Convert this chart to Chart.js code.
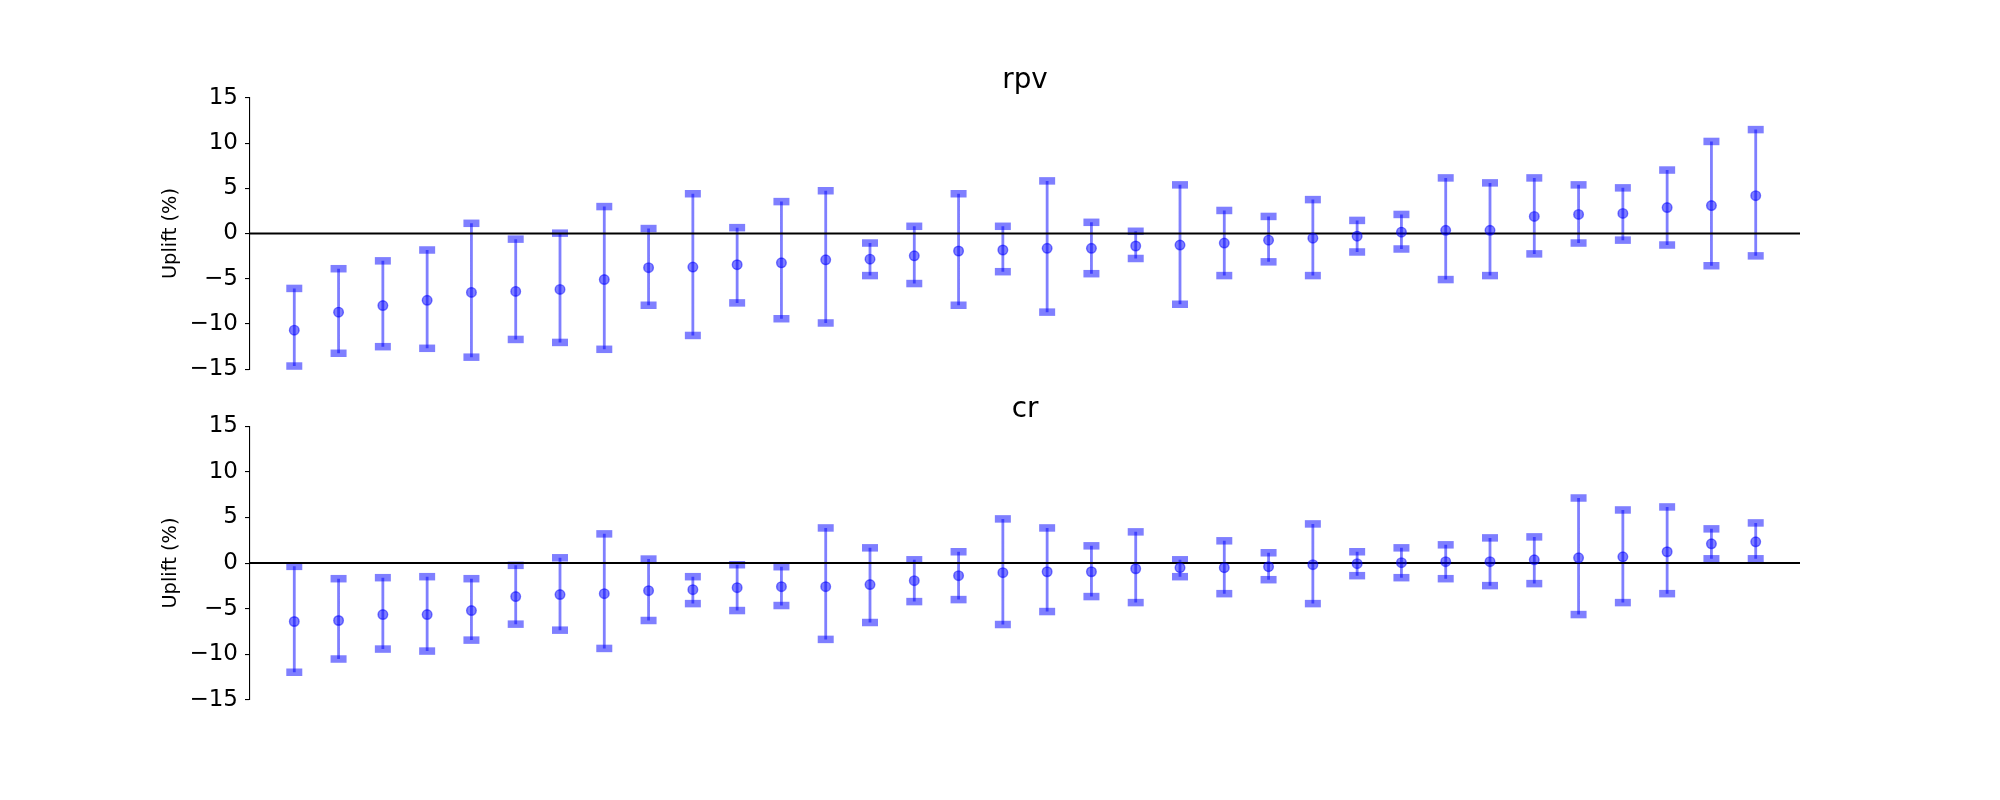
<!DOCTYPE html>
<html><head><meta charset="utf-8">
<script src="https://cdn.jsdelivr.net/npm/chart.js@4.4.0/dist/chart.umd.min.js"></script>
<style>
html,body{margin:0;padding:0;background:#fff;}
#wrap{position:relative;width:2000px;height:800px;background:#fff;}
canvas{position:absolute;left:0;}
</style></head><body>
<div id="wrap">
<canvas id="c1" width="2000" height="390" style="top:0px;width:2000px;height:390px"></canvas>
<canvas id="c2" width="2000" height="410" style="top:390px;width:2000px;height:410px"></canvas>
</div>
<script>
// segment index (x positions, no labels shown)
const segments = [1,2,3,4,5,6,7,8,9,10,11,12,13,14,15,16,17,18,19,20,21,22,23,24,25,26,27,28,29,30,31,32,33,34];
const xMin = 0, xMax = 35;
const yTicks = [-15,-10,-5,0,5,10,15];

// rpv uplift (%) : point estimate, lower and upper bounds
const rpvMean = [-10.69,-8.69,-7.96,-7.38,-6.51,-6.40,-6.18,-5.09,-3.78,-3.71,-3.45,-3.24,-2.91,-2.84,-2.47,-1.93,-1.82,-1.64,-1.64,-1.38,-1.27,-1.05,-0.73,-0.51,-0.29,0.15,0.36,0.36,1.89,2.11,2.22,2.87,3.09,4.18];
const rpvLow  = [-14.65,-13.24,-12.51,-12.69,-13.67,-11.71,-12.04,-12.80,-7.93,-11.27,-7.67,-9.42,-9.89,-4.65,-5.53,-7.93,-4.22,-8.69,-4.44,-2.76,-7.82,-4.65,-3.13,-4.65,-2.04,-1.71,-5.09,-4.65,-2.25,-1.05,-0.73,-1.27,-3.56,-2.47];
const rpvHigh = [-6.07,-3.89,-3.02,-1.82,1.13,-0.62,0.04,2.98,0.55,4.40,0.65,3.53,4.73,-1.05,0.80,4.40,0.80,5.82,1.24,0.25,5.38,2.55,1.89,3.75,1.45,2.11,6.15,5.60,6.15,5.38,5.05,7.02,10.18,11.49];

// cr uplift (%) : point estimate, lower and upper bounds
const crMean = [-6.40,-6.29,-5.64,-5.64,-5.20,-3.67,-3.45,-3.35,-3.02,-2.91,-2.69,-2.58,-2.58,-2.36,-1.93,-1.38,-1.05,-0.95,-0.95,-0.62,-0.51,-0.51,-0.40,-0.18,-0.07,0.04,0.15,0.15,0.36,0.58,0.69,1.24,2.11,2.33];
const crLow  = [-11.96,-10.51,-9.42,-9.64,-8.44,-6.69,-7.35,-9.35,-6.29,-4.44,-5.20,-4.65,-8.36,-6.51,-4.22,-4.00,-6.73,-5.31,-3.67,-4.33,-1.49,-3.35,-1.82,-4.44,-1.38,-1.60,-1.71,-2.47,-2.25,-5.64,-4.33,-3.35,0.47,0.47];
const crHigh = [-0.36,-1.71,-1.60,-1.49,-1.71,-0.25,0.58,3.20,0.44,-1.49,-0.18,-0.40,3.85,1.67,0.36,1.24,4.84,3.85,1.89,3.42,0.36,2.44,1.13,4.29,1.24,1.67,2.00,2.76,2.87,7.13,5.82,6.15,3.75,4.40];

const BLUE = 'rgba(0,0,255,0.5)';
const FONT = 'DejaVu Sans';

function makeChart(id, title, mean, lo, hi, titlePadTop, padBottom) {
  const whiskers = [];
  segments.forEach((s, i) => {
    whiskers.push({x: s, y: lo[i]}, {x: s, y: hi[i]}, {x: s, y: null});
  });
  const lowCaps = segments.map((s, i) => ({x: s, y: lo[i]}));
  const highCaps = segments.map((s, i) => ({x: s, y: hi[i]}));
  const points = segments.map((s, i) => ({x: s, y: mean[i]}));
  const zero = [{x: xMin, y: 0}, {x: xMax, y: 0}];

  return new Chart(document.getElementById(id), {
    type: 'scatter',
    data: {
      datasets: [
        {data: points, pointStyle: 'circle', pointRadius: 4.8, backgroundColor: BLUE, borderColor: BLUE, borderWidth: 1.4, order: 0, clip: false},
        {type: 'line', data: zero, borderColor: '#000', borderWidth: 2, pointRadius: 0, order: 1, clip: false},
        {data: lowCaps, pointStyle: 'line', pointRadius: 8, borderColor: BLUE, borderWidth: 7.5, backgroundColor: BLUE, order: 2, clip: false},
        {data: highCaps, pointStyle: 'line', pointRadius: 8, borderColor: BLUE, borderWidth: 7.5, backgroundColor: BLUE, order: 2, clip: false},
        {type: 'line', data: whiskers, borderColor: BLUE, borderWidth: 2.8, pointRadius: 0, spanGaps: false, order: 3, clip: false}
      ]
    },
    options: {
      responsive: false, animation: false, devicePixelRatio: 1, events: [],
      layout: {padding: {left: 0, right: 200, top: 0, bottom: padBottom}},
      plugins: {
        legend: {display: false},
        tooltip: {enabled: false},
        title: {display: true, fullSize: false, text: title, color: '#000',
          font: {family: FONT, size: 27.8, weight: 'normal'},
          padding: {top: titlePadTop, bottom: 0}}
      },
      scales: {
        x: {type: 'linear', min: xMin, max: xMax, display: false},
        y: {
          type: 'linear', min: -15, max: 15,
          afterFit: s => { s.width = 250; },
          afterBuildTicks: s => { s.ticks = yTicks.map(v => ({value: v})); },
          border: {display: true, color: '#000', width: 1.1},
          grid: {display: true, drawOnChartArea: false, drawTicks: true, tickLength: 5, color: '#000', lineWidth: 1.1},
          ticks: {color: '#000', padding: 7, font: {family: FONT, size: 23},
            callback: v => String(v).replace('-', '\u2212')},
          title: {display: true, text: 'Uplift (%)', color: '#000',
            font: {family: FONT, size: 19.4}, padding: {top: 159, bottom: 0}}
        }
      }
    }
  });
}

makeChart('c1', 'rpv', rpvMean, rpvLow, rpvHigh, 64.5, 18.3);
makeChart('c2', 'cr', crMean, crLow, crHigh, 2.8, 100);
</script>
</body></html>
